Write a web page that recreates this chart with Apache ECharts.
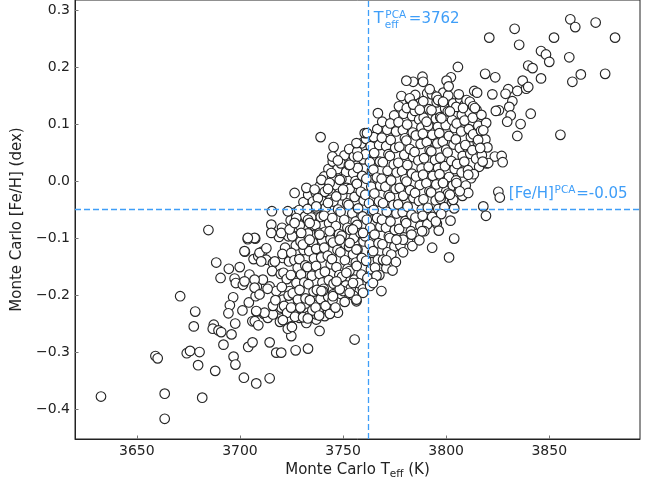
<!DOCTYPE html>
<html><head><meta charset="utf-8">
<script src="https://cdn.jsdelivr.net/npm/echarts@6/dist/echarts.min.js"></script>
<style>html,body{margin:0;padding:0;background:#fff}#c{width:649px;height:485px}</style>
</head><body><div id="c"></div>
<script>
const xTicks = [3650, 3700, 3750, 3800, 3850];
const yTicks = [-0.4, -0.3, -0.2, -0.1, 0.0, 0.1, 0.2, 0.3];
const teffPCA = 3762;
const fehPCA = -0.053;

const lowerTail = [
[3632.6,-0.378],[3663.5,-0.373],[3663.5,-0.417],[3681.7,-0.380],[3659.0,-0.307],[3660.1,-0.311],[3671.0,-0.202],[3684.7,-0.086],
[3678.3,-0.229],[3677.6,-0.255],[3674.2,-0.302],[3675.8,-0.298],[3680.4,-0.300],[3679.7,-0.323],[3688.0,-0.333],[3687.3,-0.252],
[3686.8,-0.259],[3689.6,-0.262],[3690.9,-0.265],[3692.0,-0.287],[3688.5,-0.143],[3690.6,-0.170],[3694.6,-0.154],[3696.7,-0.204],
[3695.1,-0.218],[3694.4,-0.232],[3695.9,-0.269],[3696.9,-0.308],[3697.8,-0.322],[3701.9,-0.345],[3707.9,-0.355],[3704.0,-0.291],
[3706.1,-0.283],[3697.7,-0.250],[3697.4,-0.171],[3698.0,-0.179],[3699.9,-0.151],[3701.4,-0.182],[3701.2,-0.227],[3702.4,-0.124],
[3703.8,-0.102],[3707.4,-0.101],[3704.6,-0.164],[3704.3,-0.213],[3706.0,-0.246],[3707.2,-0.246],[3708.9,-0.253],[3708.0,-0.229],
[3707.6,-0.202],[3708.2,-0.185],[3706.6,-0.137],[3708.9,-0.132],[3710.8,-0.124],[3711.1,-0.173],[3711.6,-0.233],[3714.4,-0.283],
[3714.4,-0.346],[3702.2,-0.123],[3709.5,-0.126],[3712.7,-0.138],[3710.3,-0.141],[3716.0,-0.144],[3720.8,-0.135],[3702.2,-0.176],
[3707.1,-0.173],[3707.1,-0.187],[3709.5,-0.199],[3714.4,-0.185],[3717.6,-0.193],[3720.8,-0.208],[3724.1,-0.193],[3727.3,-0.202],
[3724.1,-0.214],[3719.2,-0.225],[3726.5,-0.222],[3731.3,-0.220],[3733.0,-0.231],[3728.9,-0.240],[3732.2,-0.246],[3737.0,-0.243],
[3741.1,-0.237],[3743.5,-0.225],[3747.5,-0.231],[3738.6,-0.263],[3724.9,-0.255],[3724.9,-0.272],[3755.6,-0.278],[3713.5,-0.240],
[3732.2,-0.249],[3717.6,-0.301],[3720.0,-0.301],[3727.0,-0.297],[3733.0,-0.294],[3736.2,-0.218],[3737.0,-0.234],[3742.7,-0.227],
[3733.0,-0.237],[3726.5,-0.234],[3723.2,-0.228],[3720.0,-0.222],[3716.0,-0.234],[3711.9,-0.231],[3707.9,-0.228]
];

const lowerRight = [
[3768.6,-0.193],[3756.5,-0.211],[3759.7,-0.196],[3740.2,-0.193],[3745.1,-0.199],[3750.0,-0.193],[3753.2,-0.196],[3739.5,-0.193],
[3745.1,-0.202],[3748.4,-0.190],[3746.8,-0.176],[3751.6,-0.161],[3754.8,-0.179],[3756.5,-0.208],[3774.0,-0.157],[3769.4,-0.138],
[3771.0,-0.139],[3766.2,-0.166],[3764.5,-0.179],[3779.1,-0.103],[3775.9,-0.103],[3783.2,-0.094],[3788.3,-0.088],[3793.2,-0.117],
[3801.4,-0.134],[3803.9,-0.101],[3796.4,-0.087],[3795.0,-0.071],[3802.1,-0.0695],[3810.7,-0.021],[3818.0,-0.0445],[3819.3,-0.061],
[3825.3,-0.019],[3826.0,-0.029],[3810.7,0.011],[3805.0,-0.0035],[3798.5,-0.0035],[3796.9,-0.027],[3803.4,-0.033],[3801.8,-0.024],
[3806.6,-0.018],[3823.6,0.043],[3826.9,0.044],[3827.4,0.033],[3820.4,0.0315],[3817.7,0.034],[3815.5,0.072],[3816.5,0.058]
];

const upperLeft = [
[3739.1,0.077],[3745.4,0.0595],[3756.5,0.0665],[3744.8,0.043],[3747.5,0.036],[3760.5,0.084],[3757.2,0.043],[3753.2,0.0285],
[3744.3,0.014],[3748.4,0.002],[3739.5,0.002],[3743.5,-0.0035],[3726.5,-0.021],[3732.2,-0.012],[3736.2,-0.015],[3742.7,-0.014],
[3737.8,-0.030],[3737.0,-0.0445],[3742.7,-0.0385],[3746.7,-0.027],[3750.0,-0.015],[3715.5,-0.053],[3723.2,-0.053],[3715.2,-0.0765],
[3727.3,-0.065],[3733.0,-0.068],[3715.2,-0.091],[3720.0,-0.091],[3724.1,-0.085],[3726.5,-0.0735],[3733.8,-0.0735],[3729.7,-0.091],
[3730.5,-0.1115],[3733.8,-0.103],[3738.6,-0.094],[3743.5,-0.088],[3748.4,-0.103],[3753.2,-0.1085],[3756.5,-0.120],[3759.7,-0.091],
[3754.8,-0.085],[3707.1,-0.0998],[3703.8,-0.0998],[3766.9,0.119],[3761.6,0.084]
];

const upperTail = [
[3820.9,0.2515],[3833.2,0.267],[3835.4,0.239],[3852.3,0.2515],[3860.2,0.2837],[3862.6,0.270],[3872.5,0.278],[3881.9,0.2515],
[3846.0,0.228],[3848.4,0.222],[3850.0,0.209],[3859.7,0.217],[3839.8,0.2025],[3841.9,0.198],[3837.1,0.176],[3846.0,0.180],
[3861.2,0.174],[3865.3,0.187],[3877.1,0.188],[3818.9,0.188],[3823.8,0.182],[3805.7,0.200],[3802.3,0.182],[3800.2,0.176],
[3801.2,0.166],[3822.4,0.152],[3830.1,0.161],[3828.8,0.153],[3834.5,0.158],[3838.8,0.162],[3839.8,0.165],[3832.1,0.140],
[3830.6,0.130],[3825.6,0.124],[3824.1,0.123],[3831.3,0.115],[3841.0,0.118],[3829.6,0.104],[3836.1,0.100],[3834.5,0.079],
[3855.4,0.081],[3818.0,0.089],[3813.6,0.158],[3815.0,0.155],[3806.1,0.152],[3809.9,0.142],[3811.5,0.139],[3813.1,0.131],
[3808.2,0.128],[3813.9,0.128],[3788.5,0.183],[3788.8,0.174],[3792.0,0.161],[3795.3,0.148],[3796.1,0.142],[3784.0,0.174],
[3780.7,0.176],[3778.3,0.149],[3782.3,0.145],[3784.0,0.134],[3798.5,0.139],[3801.8,0.122],[3797.7,0.110],[3790.5,0.104],[3787.2,0.125]
];

const coreWest = [
[3712.8,-0.118],[3715.6,-0.158],[3713.4,-0.189],[3716.0,-0.219],
[3718.9,-0.098],[3716.9,-0.141],[3719.8,-0.163],[3717.2,-0.209],[3719.4,-0.247],
[3720.4,-0.082],[3723.5,-0.097],[3721.9,-0.117],[3720.6,-0.128],[3723.8,-0.141],[3721.1,-0.161],[3722.7,-0.172],[3720.3,-0.186],[3723.6,-0.201],[3721.4,-0.219],[3722.9,-0.231],[3720.8,-0.244],[3723.2,-0.259],
[3726.9,-0.055],[3724.6,-0.069],[3727.8,-0.081],[3725.3,-0.097],[3727.1,-0.113],[3724.9,-0.126],[3726.4,-0.139],[3728.0,-0.152],[3724.7,-0.165],[3727.4,-0.179],[3725.6,-0.197],[3728.1,-0.208],[3724.8,-0.222],[3726.7,-0.238],[3725.2,-0.256],
[3730.8,-0.037],[3728.7,-0.051],[3731.6,-0.062],[3729.0,-0.078],[3731.9,-0.093],[3729.4,-0.106],[3730.9,-0.121],[3728.8,-0.137],[3731.7,-0.148],[3729.6,-0.164],[3731.2,-0.178],[3728.9,-0.191],[3731.8,-0.206],[3729.3,-0.222],[3730.6,-0.239],
[3733.1,-0.024],[3735.4,-0.036],[3732.8,-0.049],[3734.6,-0.064],[3736.0,-0.079],[3733.0,-0.092],[3735.3,-0.108],[3733.6,-0.123],[3735.9,-0.136],[3732.7,-0.151],[3734.9,-0.166],[3733.2,-0.181],[3735.7,-0.194],[3733.9,-0.209],[3735.1,-0.227],[3732.9,-0.241],
[3738.9,-0.008],[3736.8,-0.021],[3739.6,-0.034],[3737.1,-0.048],[3739.2,-0.063],[3736.6,-0.077],[3738.5,-0.091],[3739.9,-0.104],[3737.0,-0.119],[3739.4,-0.134],[3736.9,-0.149],[3738.7,-0.163],[3740.0,-0.178],[3737.3,-0.191],[3739.1,-0.207],[3736.7,-0.222],[3738.4,-0.236]
];

const coreMid = [
[3742.9,0.021],[3740.8,0.008],[3743.5,-0.006],[3741.1,-0.019],[3743.8,-0.033],[3741.6,-0.047],[3740.7,-0.061],[3743.2,-0.074],[3741.3,-0.089],[3743.9,-0.102],[3740.9,-0.117],[3742.6,-0.131],[3744.0,-0.146],[3741.2,-0.159],[3743.1,-0.174],[3740.6,-0.189],[3742.8,-0.203],[3741.5,-0.219],[3743.6,-0.233],
[3745.0,0.034],[3747.4,0.021],[3744.7,0.007],[3746.9,-0.008],[3748.0,-0.022],[3745.3,-0.036],[3747.6,-0.050],[3744.8,-0.065],[3746.5,-0.079],[3748.1,-0.093],[3745.1,-0.108],[3747.3,-0.121],[3744.6,-0.137],[3746.8,-0.151],[3748.2,-0.165],[3745.4,-0.180],[3747.0,-0.195],[3744.9,-0.209],[3746.3,-0.222],
[3750.7,0.045],[3748.9,0.031],[3751.5,0.016],[3749.2,0.003],[3751.8,-0.012],[3749.6,-0.025],[3752.0,-0.039],[3748.8,-0.054],[3750.6,-0.068],[3752.1,-0.082],[3749.3,-0.096],[3751.2,-0.111],[3748.7,-0.125],[3750.9,-0.139],[3752.2,-0.154],[3749.5,-0.168],[3751.4,-0.183],[3749.0,-0.198],[3750.8,-0.212],
[3753.0,0.056],[3755.3,0.043],[3752.8,0.028],[3754.9,0.014],[3756.0,0.000],[3753.2,-0.014],[3755.6,-0.028],[3752.7,-0.042],[3754.5,-0.057],[3756.1,-0.071],[3753.4,-0.086],[3755.2,-0.100],[3752.9,-0.115],[3754.8,-0.129],[3756.2,-0.143],[3753.1,-0.158],[3755.5,-0.173],[3753.7,-0.188],[3755.0,-0.201],
[3758.8,0.066],[3756.9,0.052],[3759.7,0.038],[3757.1,0.023],[3759.3,0.009],[3756.7,-0.005],[3758.6,-0.019],[3760.0,-0.034],[3757.3,-0.048],[3759.5,-0.062],[3756.8,-0.077],[3758.4,-0.091],[3759.9,-0.106],[3757.0,-0.120],[3759.1,-0.135],[3756.6,-0.149],[3758.9,-0.164],[3757.4,-0.179],[3759.6,-0.190],
[3761.1,0.074],[3763.4,0.061],[3760.9,0.047],[3763.0,0.033],[3764.0,0.018],[3761.3,0.004],[3763.7,-0.010],[3760.8,-0.024],[3762.6,-0.039],[3764.1,-0.053],[3761.5,-0.068],[3763.2,-0.082],[3760.7,-0.097],[3762.9,-0.111],[3764.2,-0.126],[3761.2,-0.140],[3763.5,-0.155],[3761.8,-0.170],[3763.1,-0.184],
[3766.6,0.091],[3764.9,0.077],[3767.5,0.063],[3765.1,0.049],[3767.8,0.034],[3764.7,0.020],[3766.4,0.006],[3768.0,-0.008],[3765.2,-0.022],[3767.4,-0.036],[3764.8,-0.051],[3766.5,-0.065],[3768.1,-0.080],[3765.3,-0.094],[3767.2,-0.109],[3764.6,-0.123],[3766.9,-0.138],[3765.5,-0.152],[3767.6,-0.165]
];

const coreEast = [
[3769.0,0.104],[3771.4,0.090],[3768.8,0.076],[3770.9,0.061],[3772.0,0.047],[3769.3,0.033],[3771.6,0.018],[3768.7,0.004],[3770.5,-0.010],[3772.1,-0.025],[3769.4,-0.039],[3771.2,-0.054],[3768.9,-0.068],[3770.8,-0.082],[3772.2,-0.097],[3769.1,-0.111],[3771.5,-0.125],[3769.7,-0.140],[3771.0,-0.153],
[3774.8,0.115],[3772.9,0.101],[3775.7,0.087],[3773.1,0.072],[3775.3,0.058],[3772.7,0.044],[3774.6,0.029],[3776.0,0.015],[3773.3,0.001],[3775.5,-0.014],[3772.8,-0.028],[3774.4,-0.042],[3775.9,-0.057],[3773.0,-0.071],[3775.1,-0.086],[3772.6,-0.100],[3774.9,-0.115],[3773.4,-0.129],[3775.6,-0.142],
[3777.1,0.131],[3779.4,0.118],[3776.9,0.103],[3779.0,0.089],[3780.0,0.075],[3777.3,0.060],[3779.7,0.046],[3776.8,0.032],[3778.6,0.017],[3780.1,0.003],[3777.5,-0.012],[3779.2,-0.026],[3776.7,-0.041],[3778.9,-0.055],[3780.2,-0.070],[3777.2,-0.084],[3779.5,-0.099],[3777.8,-0.113],[3779.1,-0.125],
[3782.6,0.142],[3780.9,0.128],[3783.5,0.114],[3781.1,0.099],[3783.8,0.085],[3780.7,0.071],[3782.4,0.056],[3784.0,0.042],[3781.2,0.028],[3783.4,0.013],[3780.8,-0.001],[3782.5,-0.016],[3784.1,-0.030],[3781.3,-0.045],[3783.2,-0.059],[3780.6,-0.074],[3782.9,-0.088],[3781.5,-0.103],[3783.6,-0.114],
[3785.0,0.151],[3787.4,0.137],[3784.8,0.123],[3786.9,0.108],[3788.0,0.094],[3785.3,0.080],[3787.6,0.065],[3784.7,0.051],[3786.5,0.036],[3788.1,0.022],[3785.4,0.008],[3787.2,-0.007],[3784.9,-0.021],[3786.8,-0.035],[3788.2,-0.050],[3785.1,-0.064],[3787.5,-0.079],[3785.7,-0.093],[3787.0,-0.104],
[3790.8,0.154],[3788.9,0.140],[3791.7,0.126],[3789.1,0.111],[3791.3,0.097],[3788.7,0.083],[3790.6,0.068],[3792.0,0.054],[3789.3,0.040],[3791.5,0.025],[3788.8,0.011],[3790.4,-0.004],[3791.9,-0.018],[3789.0,-0.032],[3791.1,-0.047],[3788.6,-0.061],[3790.9,-0.076],[3789.4,-0.088],
[3793.1,0.152],[3795.4,0.138],[3792.9,0.124],[3795.0,0.109],[3796.0,0.095],[3793.3,0.081],[3795.7,0.066],[3792.8,0.052],[3794.6,0.037],[3796.1,0.023],[3793.5,0.009],[3795.2,-0.006],[3792.7,-0.020],[3794.9,-0.034],[3796.2,-0.049],[3793.2,-0.063],[3795.5,-0.075]
];

const coreFar = [
[3798.6,0.155],[3796.9,0.141],[3799.5,0.127],[3797.1,0.112],[3799.8,0.098],[3796.7,0.084],[3798.4,0.069],[3800.0,0.055],[3797.2,0.041],[3799.4,0.026],[3796.8,0.012],[3798.5,-0.003],[3800.1,-0.017],[3797.3,-0.031],[3799.2,-0.046],[3797.6,-0.058],
[3801.0,0.150],[3803.4,0.136],[3800.8,0.122],[3802.9,0.107],[3804.0,0.093],[3801.3,0.079],[3803.6,0.064],[3800.7,0.050],[3802.5,0.035],[3804.1,0.021],[3801.4,0.007],[3803.2,-0.008],[3800.9,-0.022],[3802.8,-0.037],[3803.9,-0.048],
[3806.8,0.144],[3804.9,0.130],[3807.6,0.116],[3805.1,0.101],[3807.3,0.087],[3804.7,0.073],[3806.6,0.058],[3808.0,0.044],[3805.3,0.030],[3807.5,0.015],[3804.8,0.001],[3806.4,-0.014],[3807.9,-0.026],
[3809.1,0.134],[3811.4,0.120],[3808.9,0.106],[3811.0,0.091],[3812.0,0.077],[3809.3,0.063],[3811.7,0.048],[3808.8,0.034],[3810.6,0.019],[3812.1,0.005],[3809.5,-0.008],
[3814.7,0.125],[3812.9,0.111],[3815.6,0.097],[3813.1,0.082],[3815.3,0.068],[3812.7,0.054],[3814.5,0.039],[3816.0,0.025],[3813.4,0.012],
[3817.1,0.116],[3819.4,0.102],[3816.9,0.088],[3819.0,0.073],[3820.0,0.059],[3817.3,0.045],[3819.6,0.031]
];

const blue = '#3f9ef8';
const ink = '#222';
const FONT = 'DejaVu Sans';
const xMin = 3620, xMax = 3894, yMin = -0.4525, yMax = 0.3175;
const teffLabelY = 0.2755;   // baseline of the T_eff annotation (data units)
const fehLabelX = 3830.4;    // left edge of the [Fe/H] annotation (data units)
const fehLabelY = -0.0325;   // baseline of the [Fe/H] annotation (data units)

const allPoints = [].concat(lowerTail, coreWest, coreMid, coreEast, coreFar, lowerRight, upperLeft, upperTail);

const chart = echarts.init(document.getElementById('c'), null, {renderer: 'canvas'});
chart.setOption({
  animation: false,
  backgroundColor: '#fff',
  grid: {left: 75, right: 9, top: 0, bottom: 46, show: true, borderColor: ink, borderWidth: 1,
         backgroundColor: 'transparent', containLabel: false, outerBoundsMode: 'none'},
  xAxis: {
    type: 'value', min: xMin, max: xMax,
    axisLine: {show: true, onZero: false, lineStyle: {color: ink, width: 1}},
    splitLine: {show: false},
    axisTick: {show: true, inside: true, length: 3.5, customValues: xTicks, lineStyle: {color: '#777'}},
    axisLabel: {customValues: xTicks, fontFamily: FONT, fontSize: 14, color: ink, margin: 5,
      formatter: v => String(Math.round(v))},
    name: '{m|Monte Carlo T}{s|eff}{m| (K)}',
    nameLocation: 'middle', nameGap: 20,
    nameTextStyle: {
      rich: {
        m: {fontFamily: FONT, fontSize: 15, color: ink, lineHeight: 18, verticalAlign: 'middle'},
        s: {fontFamily: FONT, fontSize: 10.5, color: ink, lineHeight: 4, verticalAlign: 'bottom'}
      }
    }
  },
  yAxis: {
    type: 'value', min: yMin, max: yMax,
    axisLine: {show: true, onZero: false, lineStyle: {color: ink, width: 1}},
    splitLine: {show: false},
    axisTick: {show: true, inside: true, length: 3.5, customValues: yTicks, lineStyle: {color: '#777'}},
    axisLabel: {customValues: yTicks, fontFamily: FONT, fontSize: 14, color: ink, margin: 5,
      formatter: v => (v < -1e-9 ? '\u2212' : '') + Math.abs(v).toFixed(1)},
    name: 'Monte Carlo [Fe/H] (dex)',
    nameLocation: 'middle', nameGap: 47, nameRotate: 90,
    nameTextStyle: {fontFamily: FONT, fontSize: 15, color: ink}
  },
  series: [{
    type: 'scatter', data: allPoints, symbol: 'circle', symbolSize: 9.6,
    progressive: 0, large: false, silent: true,
    itemStyle: {color: '#fff', borderColor: '#262626', borderWidth: 1.15, opacity: 1},
    emphasis: {disabled: true},
    markLine: {
      silent: true, symbol: 'none', animation: false, label: {show: false},
      lineStyle: {color: blue, type: [6, 3], width: 1.3, opacity: 1},
      emphasis: {disabled: true},
      data: [{xAxis: teffPCA}, {yAxis: fehPCA}]
    }
  }]
});

function piece(x, base, text, size) {
  return {type: 'text', x: x, y: base - 0.346 * size, silent: true, z: 100,
    style: {text: text, fontFamily: FONT, fontSize: size, fill: blue, align: 'left', verticalAlign: 'middle'}};
}
const pT = chart.convertToPixel({gridIndex: 0}, [teffPCA, teffLabelY]);
const tx = pT[0] + 6, tb = pT[1];
const pF = chart.convertToPixel({gridIndex: 0}, [fehLabelX, fehLabelY]);
const fx = pF[0], fb = pF[1];
chart.setOption({
  graphic: [
    piece(tx, tb, 'T', 16),
    piece(tx + 11.5, tb - 5, 'PCA', 10.5),
    piece(tx + 11, tb + 5, 'eff', 10.5),
    piece(tx + 35, tb, '=' + teffPCA, 15),
    piece(fx, fb, '[Fe/H]', 15),
    piece(fx + 45.7, fb - 6, 'PCA', 10.5),
    piece(fx + 67.4, fb, '=' + (Math.round(fehPCA * 100) / 100).toFixed(2), 15)
  ]
});
</script></body></html>
